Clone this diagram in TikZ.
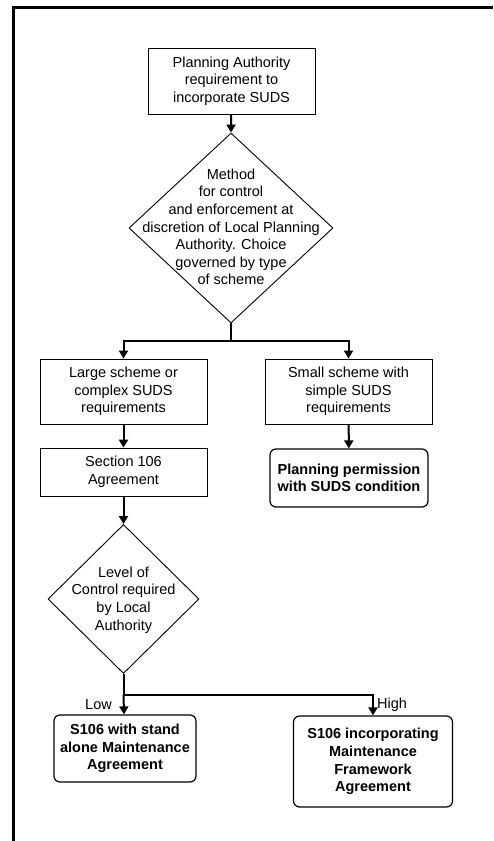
\documentclass[tikz,border=0pt]{standalone}
\usepackage{fontspec}
\setmainfont{Liberation Sans}
\usetikzlibrary{shapes.geometric,arrows.meta}

\begin{document}
\begin{tikzpicture}[x=1pt,y=-1pt,
		font=\fontsize{14.5}{17.6}\selectfont,
		box/.style={draw,line width=0.9pt,inner sep=0pt,align=center,minimum width=167pt},
		endbox/.style={draw,line width=1.2pt,rounded corners=6pt,inner sep=0pt,align=center,
			font=\fontsize{14.5}{17.6}\selectfont\bfseries},
		decision/.style={draw,diamond,line width=0.9pt,inner sep=0pt},
		conn/.style={line width=2pt,-{Triangle[width=9pt,length=8pt]}},
		flow/.style={line width=2pt}]
	\useasboundingbox (0,0) rectangle (493,841);
	\draw[line width=3pt] (13.5,841) -- (13.5,7.5) -- (493,7.5);
	% upper part
	\node[box,minimum height=66pt] (plan) at (231.5,81) {Planning Authority\\requirement to\\incorporate SUDS};
	\node[decision,minimum width=204pt,minimum height=190pt] (method) at (231,228) {};
	\node[align=center,inner sep=0pt] (methodtxt) at (231,227) {Method\\for control\\and enforcement at\\discretion of Local Planning\\Authority. Choice\\governed by type\\of scheme};
	\coordinate (split) at (231,341);
	\node[box,minimum height=65pt] (large) at (123.5,391.5) {Large scheme or\\complex SUDS\\requirements};
	\node[box,minimum height=65pt] (small) at (348.5,391.5) {Small scheme with\\simple SUDS\\requirements};
	\node[box,minimum height=48pt] (s106) at (123.5,472) {Section 106\\Agreement};
	\node[endbox,minimum width=158pt,minimum height=58pt] (permit) at (349,478) {Planning permission\\with SUDS condition};
	% lower part
	\node[decision,minimum width=151pt,minimum height=149pt] (level) at (123.5,599) {};
	\node[align=center,inner sep=0pt] (leveltxt) at (123.5,600) {Level of\\Control required\\by Local\\Authority};
	\coordinate (choice) at (123.5,695);
	\node[endbox,minimum width=142pt,minimum height=67pt] (standalone) at (125,748.5) {S106 with stand\\alone Maintenance\\Agreement};
	\node[endbox,minimum width=159pt,minimum height=91pt] (framework) at (373,761.5) {S106 incorporating\\Maintenance\\Framework\\Agreement};
	\node[anchor=east,inner sep=0pt] (low) at (112,705) {Low};
	\node[anchor=west,inner sep=0pt] (high) at (377,705) {High};

	\draw[conn] (plan) -- (method.north);
	\draw[flow] (method.south) -- (split);
	\draw[conn] (split) -| (large);
	\draw[conn] (split) -| (small);
	\draw[conn] (large) -- (s106);
	\draw[conn] (small) -- (permit);
	\draw[conn] (s106) -- (level.north);
	\draw[flow] (level.south) -- (choice);
	\draw[conn] (choice) -- (standalone);
	\draw[conn] (choice) -| (framework);
\end{tikzpicture}
\end{document}
